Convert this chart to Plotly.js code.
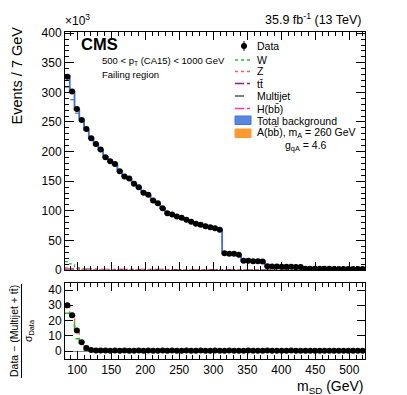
<!DOCTYPE html>
<html>
<head>
<meta charset="utf-8">
<script src="https://cdn.plot.ly/plotly-3.0.1.min.js"></script>
<style>
  html, body { margin: 0; padding: 0; background: #fff; }
  #chart { width: 407px; height: 395px; }
</style>
</head>
<body>
<div id="chart"></div>
<script>
// binning: 63 bins of 7 GeV in m_SD
const binLo = 82;
const binWidth = 7;
const nBins = 63;

// events per bin, in thousands
const dataK = [326.6, 301.3, 272.1, 253.5, 238.3, 222.4, 213.0, 203.4, 190.4, 183.6,
  179.2, 166.8, 157.8, 154.4, 145.5, 139.7, 130.3, 126.9, 117.3, 112.7,
  104.3, 95.9, 93.7, 90.3, 88.1, 84.7, 81.3, 78.0, 76.3, 73.9,
  72.2, 70.5, 67.8, 28.4, 27.3, 27.3, 25.7, 15.5, 15.5, 14.9,
  14.9, 14.3, 6.2, 5.9, 5.9, 5.6, 5.5, 5.3, 5.2, 5.0,
  2.3, 2.2, 2.2, 2.1, 2.0, 2.0, 1.9, 1.9, 1.8, 1.8,
  1.7, 1.7, 1.6];

const totalBkgK = [328.0, 300.0, 271.0, 254.0, 237.0, 223.0, 212.0, 203.0, 191.0, 183.0,
  178.0, 167.0, 158.0, 153.5, 146.0, 139.0, 131.0, 126.0, 118.0, 112.0,
  104.5, 96.5, 93.0, 90.5, 87.5, 84.5, 81.5, 78.5, 76.0, 74.0,
  72.0, 70.3, 68.0, 28.2, 27.4, 27.0, 26.0, 15.3, 15.2, 15.0,
  14.8, 14.5, 6.1, 5.9, 5.8, 5.6, 5.5, 5.3, 5.1, 5.0,
  2.3, 2.2, 2.2, 2.1, 2.0, 2.0, 1.9, 1.9, 1.8, 1.8,
  1.7, 1.7, 1.6];

const multijetK = [309.0, 287.5, 265.0, 251.0, 236.0, 222.0, 211.2, 202.3, 190.3, 182.4,
  177.4, 166.5, 157.5, 153.0, 145.5, 138.5, 130.5, 125.5, 117.5, 111.6,
  104.1, 96.1, 92.6, 90.1, 87.1, 84.1, 81.1, 78.1, 75.6, 73.6,
  71.6, 69.9, 67.6, 27.8, 27.0, 26.6, 25.6, 14.9, 14.8, 14.6,
  14.4, 14.1, 5.8, 5.6, 5.5, 5.3, 5.2, 5.0, 4.8, 4.7,
  2.0, 1.9, 1.9, 1.8, 1.7, 1.7, 1.6, 1.6, 1.5, 1.5,
  1.4, 1.4, 1.3];

const ttK = [1.4, 1.4, 1.5, 1.5, 1.5, 1.4, 1.4, 1.3, 1.3, 1.3,
  1.2, 1.2, 1.2, 1.1, 1.1, 1.0, 1.0, 1.0, 0.9, 0.9,
  0.9, 0.8, 0.8, 0.8, 0.7, 0.7, 0.7, 0.7, 0.6, 0.6,
  0.6, 0.6, 0.5, 0.5, 0.5, 0.5, 0.5, 0.4, 0.4, 0.4,
  0.4, 0.4, 0.3, 0.3, 0.3, 0.3, 0.3, 0.3, 0.3, 0.3,
  0.3, 0.3, 0.3, 0.3, 0.3, 0.3, 0.3, 0.3, 0.3, 0.3,
  0.3, 0.3, 0.3];

const wK = [14.1, 10.3, 4.2, 1.2, 0.3, 0.1, 0.1, 0.1, 0.1, 0.1,
  0.1, 0.1, 0.1, 0.1, 0.1, 0.1, 0.1, 0.1, 0.1, 0.1,
  0.1, 0.1, 0.1, 0.1, 0.1, 0.1, 0.1, 0.1, 0.1, 0.1,
  0.1, 0.1, 0.1, 0.1, 0.1, 0.1, 0.1, 0.1, 0.1, 0.1,
  0.1, 0.1, 0.0, 0.0, 0.0, 0.0, 0.0, 0.0, 0.0, 0.0,
  0.0, 0.0, 0.0, 0.0, 0.0, 0.0, 0.0, 0.0, 0.0, 0.0,
  0.0, 0.0, 0.0];

const zK = [3.5, 2.9, 2.6, 1.5, 0.8, 0.3, 0.2, 0.2, 0.1, 0.1,
  0.1, 0.1, 0.1, 0.1, 0.1, 0.1, 0.1, 0.1, 0.1, 0.1,
  0.1, 0.1, 0.1, 0.1, 0.1, 0.1, 0.1, 0.1, 0.1, 0.1,
  0.1, 0.1, 0.1, 0.1, 0.1, 0.1, 0.1, 0.1, 0.1, 0.1,
  0.0, 0.0, 0.0, 0.0, 0.0, 0.0, 0.0, 0.0, 0.0, 0.0,
  0.0, 0.0, 0.0, 0.0, 0.0, 0.0, 0.0, 0.0, 0.0, 0.0,
  0.0, 0.0, 0.0];

// (Data - (Multijet + tt)) / sigma_Data
const ratioData = [30.0, 23.4, 13.4, 5.7, 2.0, 0.7, 0.4, 0.3, 0.3, 0.2,
  0.3, 0.2, 0.3, 0.2, 0.2, 0.3, 0.2, 0.3, 0.2, 0.2,
  0.3, 0.2, 0.3, 0.2, 0.2, 0.3, 0.2, 0.2, 0.3, 0.2,
  0.2, 0.3, 0.2, 0.2, 0.3, 0.2, 0.2, 0.2, 0.3, 0.2,
  0.2, 0.2, 0.3, 0.2, 0.2, 0.2, 0.2, 0.3, 0.2, 0.2,
  0.2, 0.2, 0.2, 0.2, 0.2, 0.2, 0.2, 0.2, 0.2, 0.2,
  0.2, 0.2, 0.2];
const ratioZ = [30.8, 24.0, 13.8, 6.0, 2.0, 0.5, 0.1, 0.0, 0.0, 0.0,
  0.0, 0.0, 0.0, 0.0, 0.0, 0.0, 0.0, 0.0, 0.0, 0.0,
  0.0, 0.0, 0.0, 0.0, 0.0, 0.0, 0.0, 0.0, 0.0, 0.0,
  0.0, 0.0, 0.0, 0.0, 0.0, 0.0, 0.0, 0.0, 0.0, 0.0,
  0.0, 0.0, 0.0, 0.0, 0.0, 0.0, 0.0, 0.0, 0.0, 0.0,
  0.0, 0.0, 0.0, 0.0, 0.0, 0.0, 0.0, 0.0, 0.0, 0.0,
  0.0, 0.0, 0.0];
const ratioW = [24.7, 18.8, 8.0, 2.5, 0.5, 0.0, 0.0, 0.0, 0.0, 0.0,
  0.0, 0.0, 0.0, 0.0, 0.0, 0.0, 0.0, 0.0, 0.0, 0.0,
  0.0, 0.0, 0.0, 0.0, 0.0, 0.0, 0.0, 0.0, 0.0, 0.0,
  0.0, 0.0, 0.0, 0.0, 0.0, 0.0, 0.0, 0.0, 0.0, 0.0,
  0.0, 0.0, 0.0, 0.0, 0.0, 0.0, 0.0, 0.0, 0.0, 0.0,
  0.0, 0.0, 0.0, 0.0, 0.0, 0.0, 0.0, 0.0, 0.0, 0.0,
  0.0, 0.0, 0.0];

const xTicks = [100, 150, 200, 250, 300, 350, 400, 450, 500];
const yTicksMain = [0, 50, 100, 150, 200, 250, 300, 350, 400];
const yTicksRatio = [0, 10, 20, 30, 40];

// helpers
const W = 407, H = 395;
const px = x => x / W;
const py = y => 1 - y / H;

const edges = [];
for (let i = 0; i <= nBins; i++) edges.push(binLo + i * binWidth);
const centers = edges.slice(0, nBins).map(e => e + binWidth / 2);

function stepTrace(vals, xa, ya, color, dash, width, name) {
    return {
        x: edges,
        y: vals.concat([vals[vals.length - 1]]),
        xaxis: xa, yaxis: ya,
        type: 'scatter', mode: 'lines',
        line: { shape: 'hv', color: color, dash: dash, width: width },
        name: name, showlegend: false, hoverinfo: 'skip'
    };
}

const colW = '#2db82d', colZ = '#ff5a5a', colTT = '#8b1a8b', colQCD = '#555555',
      colH = '#ff33cc', colBkg = '#3f72d9', colSig = '#ff9933';

const traces = [
    stepTrace(ttK, 'x', 'y', colTT, 'dashdot', 1.2, 'tt'),
    stepTrace(wK, 'x', 'y', colW, 'dot', 1.2, 'W'),
    stepTrace(zK, 'x', 'y', colZ, 'dot', 1.2, 'Z'),
    stepTrace(multijetK, 'x', 'y', colQCD, 'dash', 1, 'Multijet'),
    stepTrace(totalBkgK, 'x', 'y', colBkg, 'solid', 1.8, 'Total background'),
    {
        x: centers, y: dataK, xaxis: 'x', yaxis: 'y',
        type: 'scatter', mode: 'markers',
        marker: { color: 'black', size: 6 },
        error_y: { type: 'data', array: dataK.map(v => Math.sqrt(v * 1000) / 1000), color: 'black', thickness: 1, width: 0 },
        showlegend: false, hoverinfo: 'skip'
    },
    stepTrace(ratioZ, 'x2', 'y2', colZ, 'dot', 1.5, 'Z'),
    stepTrace(ratioW, 'x2', 'y2', colW, 'dash', 1.5, 'W'),
    {
        x: centers, y: ratioData, xaxis: 'x2', yaxis: 'y2',
        type: 'scatter', mode: 'markers',
        marker: { color: 'black', size: 6 },
        showlegend: false, hoverinfo: 'skip'
    }
];

const fontFam = 'Liberation Sans, Arial, Helvetica, sans-serif';
const tickFont = { family: fontFam, size: 12, color: 'black' };

const xBase = {
    range: [binLo, binLo + nBins * binWidth],
    domain: [px(65), px(365)],
    tickmode: 'array', tickvals: xTicks,
    ticks: 'inside', ticklen: 8, tickcolor: 'black', tickwidth: 1,
    minor: { ticks: 'inside', ticklen: 4, dtick: 10, tick0: 0, tickcolor: 'black', showgrid: false },
    showline: true, linecolor: 'black', linewidth: 1, mirror: 'ticks',
    showgrid: false, zeroline: false, tickfont: tickFont
};

const layout = {
    width: W, height: H,
    margin: { l: 0, r: 0, t: 0, b: 0 },
    paper_bgcolor: 'white', plot_bgcolor: 'white',
    showlegend: false,
    font: { family: fontFam, color: 'black' },
    xaxis: Object.assign({}, xBase, { anchor: 'y', showticklabels: false }),
    xaxis2: Object.assign({}, xBase, { anchor: 'y2', showticklabels: true, ticklabelstandoff: 0 }),
    yaxis: {
        domain: [py(270), py(32)], range: [0, 402], anchor: 'x',
        tickmode: 'array', tickvals: yTicksMain,
        ticks: 'inside', ticklen: 9, tickcolor: 'black',
        minor: { ticks: 'inside', ticklen: 4, dtick: 10, tickcolor: 'black', showgrid: false },
        showline: true, linecolor: 'black', mirror: 'ticks',
        showgrid: false, zeroline: false, tickfont: tickFont
    },
    yaxis2: {
        domain: [py(359), py(283)], range: [-5.2, 44.6], anchor: 'x2',
        tickmode: 'array', tickvals: yTicksRatio,
        ticks: 'inside', ticklen: 8, tickcolor: 'black',
        showline: true, linecolor: 'black', mirror: 'ticks',
        showgrid: false, zeroline: true, zerolinecolor: '#888888', zerolinewidth: 1,
        tickfont: tickFont
    },
    shapes: [],
    annotations: []
};

function addText(text, x, y, size, opts) {
    layout.annotations.push(Object.assign({
        text: text, xref: 'paper', yref: 'paper', x: px(x), y: py(y),
        showarrow: false, xanchor: 'left', yanchor: 'middle', borderpad: 0,
        font: { family: fontFam, size: size, color: 'black' }
    }, opts || {}));
}

// titles and labels
addText('×10<sup>3</sup>', 64, 20, 12);
addText('35.9 fb<sup>-1</sup> (13 TeV)', 363, 19, 12.5, { xanchor: 'right' });
addText('<b>CMS</b>', 80, 44, 16.5);
addText('500 < p<sub>T</sub> (CA15) < 1000 GeV', 101, 61, 9.5);
addText('Failing region', 101, 74, 9.5);
addText('Events / 7 GeV', 16.5, 76, 14.5, { textangle: -90, xanchor: 'center' });
addText('m<sub>SD</sub> (GeV)', 365, 396.5, 14, { xanchor: 'right', yanchor: 'bottom' });
addText('Data − (Multijet + tt̄)', 14, 331, 10.5, { textangle: -90, xanchor: 'center' });
addText('σ<sub>Data</sub>', 29, 331, 10.5, { textangle: -90, xanchor: 'center' });
layout.shapes.push({ type: 'line', xref: 'paper', yref: 'paper',
    x0: px(21.5), x1: px(21.5), y0: py(284), y1: py(378), line: { color: 'black', width: 1 } });

// legend
const legX0 = 235, legX1 = 251, legTx = 256;
layout.shapes.push({ type: 'circle', xref: 'paper', yref: 'paper', fillcolor: 'black',
    x0: px(241), x1: px(247), y0: py(43), y1: py(49), line: { color: 'black', width: 0 } });
layout.shapes.push({ type: 'line', xref: 'paper', yref: 'paper',
    x0: px(244), x1: px(244), y0: py(41), y1: py(51), line: { color: 'black', width: 1 } });
addText('Data', legTx, 46, 10.5);
const legLines = [
    ['W', 60, colW, 'dot'],
    ['Z', 71.5, colZ, 'dot'],
    ['tt̄', 83.5, colTT, 'dashdot'],
    ['Multijet', 96, colQCD, 'dash'],
    ['H(bb̄)', 108.5, colH, 'dashdot']
];
legLines.forEach(([lab, y, c, d]) => {
    layout.shapes.push({ type: 'line', xref: 'paper', yref: 'paper',
        x0: px(legX0), x1: px(legX1), y0: py(y), y1: py(y), line: { color: c, width: 1.5, dash: d } });
    addText(lab, legTx, y, 10.5);
});
layout.shapes.push({ type: 'rect', xref: 'paper', yref: 'paper', fillcolor: '#5a86e0',
    x0: px(legX0), x1: px(legX1), y0: py(124.5), y1: py(116), line: { color: colBkg, width: 1 } });
addText('Total background', legTx, 120.5, 10.5);
layout.shapes.push({ type: 'rect', xref: 'paper', yref: 'paper', fillcolor: colSig,
    x0: px(legX0), x1: px(legX1), y0: py(137.5), y1: py(129), line: { color: colSig, width: 1 } });
addText('A(bb̄), m<sub>A</sub> = 260 GeV', legTx, 133, 10.5);
addText('g<sub>qA</sub> = 4.6', 284, 146, 10.5);

Plotly.newPlot('chart', traces, layout, { staticPlot: true });
</script>
</body>
</html>
